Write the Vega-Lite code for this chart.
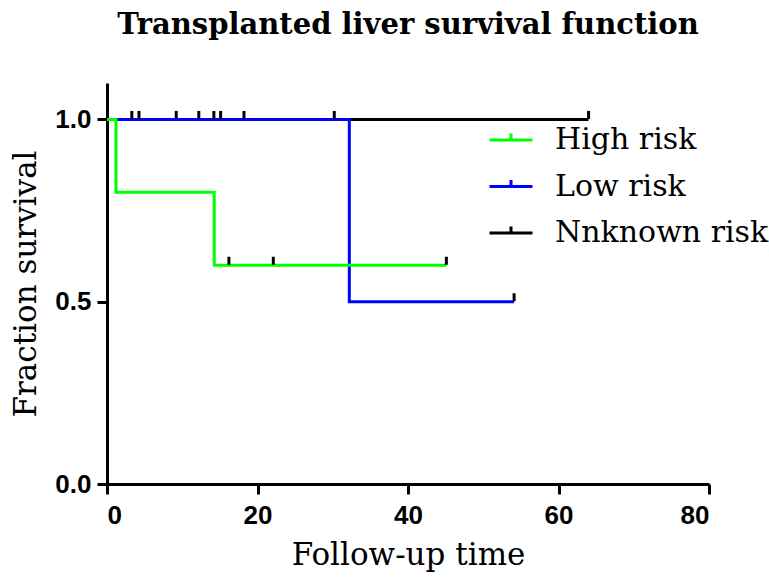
{
  "$schema": "https://vega.github.io/schema/vega-lite/v6.json",
  "width": 602,
  "height": 401,
  "autosize": {"type": "none"},
  "padding": {"left": 107, "top": 83, "right": 60, "bottom": 104},
  "background": "white",
  "title": {
    "text": "Transplanted liver survival function",
    "font": "DejaVu Serif",
    "fontSize": 29,
    "fontWeight": "bold",
    "color": "#000000",
    "anchor": "middle",
    "offset": 43
  },
  "config": {
    "view": {"stroke": null},
    "axis": {
      "grid": false,
      "domainColor": "#000000",
      "domainWidth": 3,
      "tickColor": "#000000",
      "tickWidth": 3,
      "tickSize": 10,
      "labelFont": "Liberation Sans",
      "labelFontWeight": "bold",
      "labelFontSize": 26,
      "labelColor": "#000000",
      "titleFont": "DejaVu Serif",
      "titleFontSize": 31,
      "titleFontWeight": "normal",
      "titleColor": "#000000"
    }
  },
  "datasets": {
    "curves": [
      {"group": "Nnknown risk", "time": 0, "surv": 1.0},
      {"group": "Nnknown risk", "time": 64, "surv": 1.0},
      {"group": "Low risk", "time": 0, "surv": 1.0},
      {"group": "Low risk", "time": 32.2, "surv": 0.5},
      {"group": "Low risk", "time": 54.1, "surv": 0.5},
      {"group": "High risk", "time": 0, "surv": 1.0},
      {"group": "High risk", "time": 1.2, "surv": 0.8},
      {"group": "High risk", "time": 14.25, "surv": 0.6},
      {"group": "High risk", "time": 45.1, "surv": 0.6}
    ],
    "censored": [
      {"group": "Nnknown risk", "time": 3.3, "surv": 1.0},
      {"group": "Low risk", "time": 4.25, "surv": 1.0},
      {"group": "Nnknown risk", "time": 9.2, "surv": 1.0},
      {"group": "Low risk", "time": 12.2, "surv": 1.0},
      {"group": "Nnknown risk", "time": 14.2, "surv": 1.0},
      {"group": "Low risk", "time": 15.1, "surv": 1.0},
      {"group": "Nnknown risk", "time": 18.2, "surv": 1.0},
      {"group": "Low risk", "time": 30.2, "surv": 1.0},
      {"group": "Nnknown risk", "time": 64, "surv": 1.0},
      {"group": "Low risk", "time": 54.1, "surv": 0.5},
      {"group": "High risk", "time": 16.2, "surv": 0.6},
      {"group": "High risk", "time": 22.1, "surv": 0.6},
      {"group": "High risk", "time": 45.1, "surv": 0.6}
    ]
  },
  "layer": [
    {
      "data": {"name": "curves"},
      "mark": {"type": "line", "interpolate": "step-after", "strokeWidth": 3},
      "encoding": {
        "x": {
          "field": "time", "type": "quantitative",
          "scale": {"domain": [0, 80], "nice": false, "zero": false},
          "axis": {"values": [0, 20, 40, 60, 80], "title": "Follow-up time", "labelPadding": 8, "titlePadding": 12}
        },
        "y": {
          "field": "surv", "type": "quantitative",
          "scale": {"domain": [0, 1.1], "nice": false},
          "axis": {"values": [0, 0.5, 1.0], "format": ".1f", "title": "Fraction survival", "labelPadding": 6, "titlePadding": 12}
        },
        "color": {
          "field": "group", "type": "nominal",
          "scale": {"domain": ["High risk", "Low risk", "Nnknown risk"], "range": ["#00FF00", "#0000FF", "#000000"]},
          "legend": {
            "title": null,
            "orient": "none",
            "legendX": 381,
            "legendY": 34,
            "symbolType": "M-1,0H1M0,0V-0.3",
            "symbolSize": 1849,
            "symbolStrokeWidth": 3,
            "symbolFillColor": "transparent",
            "labelFont": "DejaVu Serif",
            "labelFontSize": 30,
            "labelColor": "#000000",
            "labelOffset": 21,
            "rowPadding": 8.5,
            "labelLimit": 400
          }
        },
        "order": {"field": "time", "type": "quantitative"}
      }
    },
    {
      "data": {"name": "censored"},
      "mark": {"type": "tick", "orient": "vertical", "size": 8, "thickness": 3, "color": "#000000", "opacity": 1, "yOffset": -4.5},
      "encoding": {
        "x": {"field": "time", "type": "quantitative"},
        "y": {"field": "surv", "type": "quantitative"}
      }
    }
  ]
}
